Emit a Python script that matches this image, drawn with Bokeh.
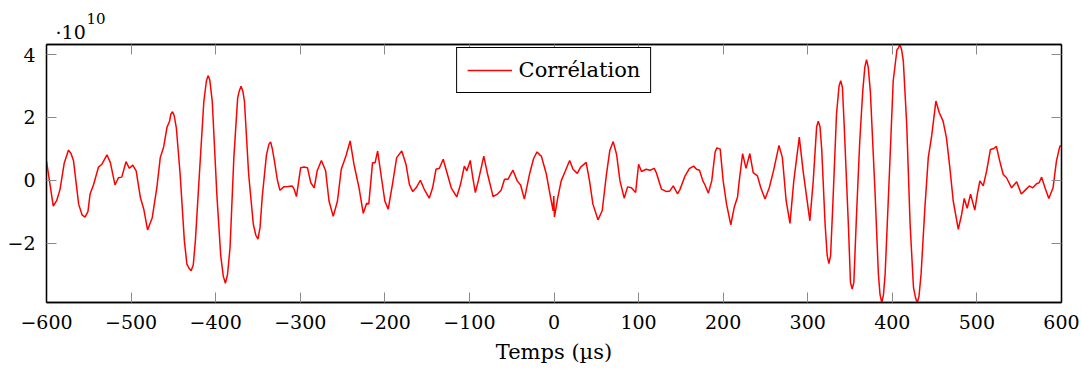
from bokeh.plotting import figure
from bokeh.models import Range1d, FixedTicker, LinearAxis, Legend, Title
from bokeh.embed import file_html
from bokeh.resources import INLINE

# Time lag (µs) and correlation value (in units of 1e10)
time_us = [
    -600, -592, -588, -584, -579, -574, -571, -568, -562, -558, -554.5, -551, -548.5, -544.5,
    -538.5, -534.5, -528.5, -524.5, -519, -515, -511, -506, -502, -498, -494, -489, -485,
    -480.5, -475, -469.5, -465.5, -461.5, -457.5, -454.5, -453, -451, -449, -446.5, -442,
    -437, -434, -431.5, -429, -426.5, -424, -419, -414, -411, -409, -407, -404, -398.5,
    -394, -391, -388.5, -386, -383, -378.5, -374, -372, -370, -368, -366, -361, -355.5,
    -352.5, -350, -347.5, -345, -340, -337, -335, -333, -330.5, -327, -324, -319.5, -314.5,
    -309.5, -307, -304.5, -299.5, -295.5, -291.5, -287.5, -283.5, -280, -275, -270, -266,
    -261, -256, -251.5, -246, -241, -236.5, -230.5, -225.5, -221.5, -219, -214.5, -211.5,
    -208.5, -204, -200, -196, -191, -186, -180, -175, -171, -167, -163, -158, -153.5,
    -147.5, -143.5, -139.5, -135.5, -131, -126.5, -121.5, -115, -110.5, -106, -103, -99,
    -96, -93, -89.5, -83, -78.5, -72, -66.5, -62.5, -58.5, -54.5, -48.5, -43.5, -39.5,
    -35, -29, -24, -20, -16.5, -15, -9, -4, -1, -0.3, 0.5, 4.5, 8.5, 13.5, 18.5, 22.5,
    27.5, 31.5, 38, 42, 46, 52, 57, 62, 66, 70, 74, 78, 83, 87, 91.5, 96.5, 100, 103.5,
    109, 113.5, 118.5, 121, 127, 133, 137, 141, 146, 149, 155, 160, 165, 168.5, 172, 176,
    178.5, 182.5, 186.5, 190.5, 192.5, 196.5, 200, 204, 209, 213, 217, 219, 223, 227,
    231.5, 235.5, 240.5, 244.5, 249.5, 254.5, 259.5, 266, 270, 274.5, 279, 283.5, 290,
    294.5, 302.5, 306.5, 310.5, 312.5, 314.5, 316.5, 320.5, 323, 325, 327, 329.5, 334,
    337, 339, 341, 343, 348, 350.5, 352.5, 354.5, 357.5, 361.5, 365, 367.5, 369.5, 371.5,
    374, 379.5, 383.5, 385.5, 387.5, 389.5, 391.5, 396.5, 401, 405.5, 407, 409, 411, 413,
    417, 421, 425, 427.5, 429.5, 431.5, 434, 438.5, 442.5, 446.5, 451.5, 455.5, 460, 464,
    468, 472, 478, 482, 485, 488.5, 492.5, 497.5, 500.5, 503.5, 507.5, 511.5, 516, 520,
    523, 527, 531, 535, 541, 547, 552.5, 558, 562, 566, 570.5, 573.5, 576.5, 580.5, 585,
    590, 594, 598, 600,
]
corr_e10 = [
    0.61, -0.82, -0.65, -0.29, 0.55, 0.96, 0.85, 0.61, -0.76, -1.10, -1.17, -1.00, -0.44, -0.15,
    0.42, 0.51, 0.81, 0.56, -0.15, 0.08, 0.10, 0.59, 0.38, 0.48, 0.30, -0.55, -0.92,
    -1.58, -1.19, -0.23, 0.72, 1.06, 1.69, 1.88, 2.10, 2.18, 2.05, 1.67, 0.19,
    -1.93, -2.67, -2.80, -2.88, -2.70, -1.93, 0.30, 2.50, 3.15, 3.33, 3.20, 2.50, -0.50,
    -2.40, -3.05, -3.28, -3.00, -2.14, 0.72, 2.62, 2.85, 2.99, 2.85, 2.52, 0.19, -1.40,
    -1.75, -1.87, -1.50, -0.55, 0.80, 1.15, 1.22, 1.00, 0.61, 0.00, -0.32, -0.21, -0.20,
    -0.18, -0.30, -0.52, 0.40, 0.42, 0.40, -0.08, -0.24, 0.30, 0.63, 0.30, -0.66,
    -1.15, -0.66, 0.35, 0.77, 1.25, 0.51, -0.24, -1.05, -0.73, -0.76, 0.56, 0.56,
    0.93, 0.08, -0.66, -0.92, -0.13, 0.72, 0.93, 0.51, -0.13, -0.36, -0.24, 0.00, -0.28,
    -0.57, -0.24, 0.35, 0.38, 0.67, 0.24, -0.24, -0.53, -0.13, 0.45, 0.30, 0.63,
    0.08, -0.39, -0.02, 0.77, 0.19, -0.52, -0.43, -0.32, 0.03, 0.03, 0.32, -0.02, -0.15,
    -0.60, 0.19, 0.70, 0.90, 0.80, 0.77, 0.19, -0.55, -0.97, -0.50, -1.17, -0.55, -0.02, 0.30, 0.63, 0.35,
    0.22, 0.42, 0.57, -0.02, -0.76, -1.26, -0.97, 0.19, 0.95, 1.23, 0.82, -0.02, -0.57, -0.21, -0.24, -0.39, 0.51, 0.28,
    0.35, 0.32, 0.38, 0.24, -0.28, -0.36, -0.34, -0.18, -0.43, -0.29, 0.14, 0.37, 0.45, 0.35, 0.32, -0.02,
    -0.15, -0.41, -0.02, 0.90, 1.03, 0.99, -0.02, -0.76, -1.42, -0.87, -0.53, -0.02, 0.85, 0.38,
    0.85, 0.24, 0.14, -0.24, -0.60, -0.24, 0.30, 1.11, 0.72, -0.66, -1.37, -0.02, 1.37,
    0.30, -1.29, -0.02, 1.70, 1.88, 1.70, 0.99, -1.39, -2.40, -2.65, -2.40, -0.87, 2.10,
    3.00, 3.17, 2.95, 1.80, -1.39, -3.25, -3.46, -3.25, -1.20, 1.25, 2.83, 3.60, 3.84, 3.60,
    2.83, -0.34, -2.98, -3.65, -3.89, -3.65, -2.98, 0.19, 3.15, 4.16, 4.20, 4.32, 4.15, 3.79,
    1.78, -1.39, -3.41, -3.75, -3.89, -3.70, -2.98, -0.87, 0.72, 1.41, 2.52, 2.15, 1.88, 1.35,
    0.40, -0.66, -1.56, -1.08, -0.58, -0.89, -0.44, -0.95, -0.44, -0.02, -0.18, 0.30, 0.98, 1.01,
    1.08, 0.61, 0.19, 0.08, -0.24, -0.05, -0.44, -0.29, -0.18, -0.24, -0.11, -0.08, 0.10, -0.24, -0.58,
    -0.24, 0.61, 1.08, 1.10,
]

x_ticks = [-600, -500, -400, -300, -200, -100, 0, 100, 200, 300, 400, 500, 600]
x_tick_labels = ["\u2212600", "\u2212500", "\u2212400", "\u2212300", "\u2212200", "\u2212100",
                 "0", "100", "200", "300", "400", "500", "600"]
y_ticks = [-2, 0, 2, 4]
y_tick_labels = ["\u22122", "0", "2", "4"]

SERIF = "DejaVu Serif"

p = figure(width=1080, height=366, output_backend="svg", toolbar_location=None,
           x_range=Range1d(-600, 600), y_range=Range1d(min(corr_e10), max(corr_e10)),
           min_border_left=46, min_border_right=19, min_border_top=44, min_border_bottom=64)
p.grid.visible = False
p.background_fill_color = "white"
p.border_fill_color = "white"
p.outline_line_color = "black"
p.outline_line_width = 1.3

r = p.line(time_us, corr_e10, line_color="#ff0000", line_width=1.5)

def style_axis(ax, ticks, labels, show_labels):
    ax.ticker = FixedTicker(ticks=ticks)
    ax.axis_line_color = "black"
    ax.axis_line_width = 1.3
    ax.major_tick_in = 10
    ax.major_tick_out = 0
    ax.major_tick_line_color = "#8a8a8a"
    ax.major_tick_line_width = 1
    ax.minor_tick_line_color = None
    if show_labels:
        ax.major_label_overrides = dict(zip(ticks, labels))
        ax.major_label_text_font = SERIF
        ax.major_label_text_font_size = "19px"
        ax.major_label_text_color = "black"
    else:
        # mirrored ticks only, labels not drawn
        ax.major_label_text_color = None
        ax.major_label_text_font_size = "1px"
        ax.major_label_standoff = 0

xa = p.xaxis[0]
style_axis(xa, x_ticks, x_tick_labels, True)
xa.major_label_standoff = 12
xa.axis_label = "Temps (\u00b5s)"
xa.axis_label_text_font = SERIF
xa.axis_label_text_font_size = "21px"
xa.axis_label_text_font_style = "normal"
xa.axis_label_text_color = "black"
xa.axis_label_standoff = 8

ya = p.yaxis[0]
style_axis(ya, y_ticks, y_tick_labels, True)
ya.major_label_standoff = 11
ya.major_label_orientation = "horizontal"

top = LinearAxis()
style_axis(top, x_ticks, x_tick_labels, False)
p.add_layout(top, "above")
right = LinearAxis()
style_axis(right, y_ticks, y_tick_labels, False)
p.add_layout(right, "right")

# scale multiplier of the y axis: "·10" with a raised exponent "10"
p.add_layout(Title(text="\u00b710", align="left", offset=9, standoff=3,
                   text_font=SERIF, text_font_size="19px", text_font_style="normal",
                   text_color="black"), "above")
p.add_layout(Title(text="10", align="left", offset=40, standoff=-12,
                   text_font=SERIF, text_font_size="15px", text_font_style="normal",
                   text_color="black"), "above")

legend = Legend(items=[("Corrélation", [r])], location="top_center", margin=3,
                padding=10, spacing=0, glyph_width=45, glyph_height=22, label_height=22,
                label_standoff=7, label_text_font=SERIF, label_text_font_size="21px",
                label_text_color="black",
                border_line_color="black", border_line_width=1, border_line_alpha=1,
                background_fill_color="white", background_fill_alpha=1)
p.add_layout(legend, "center")

open("out.html", "w").write(file_html(p, INLINE))
